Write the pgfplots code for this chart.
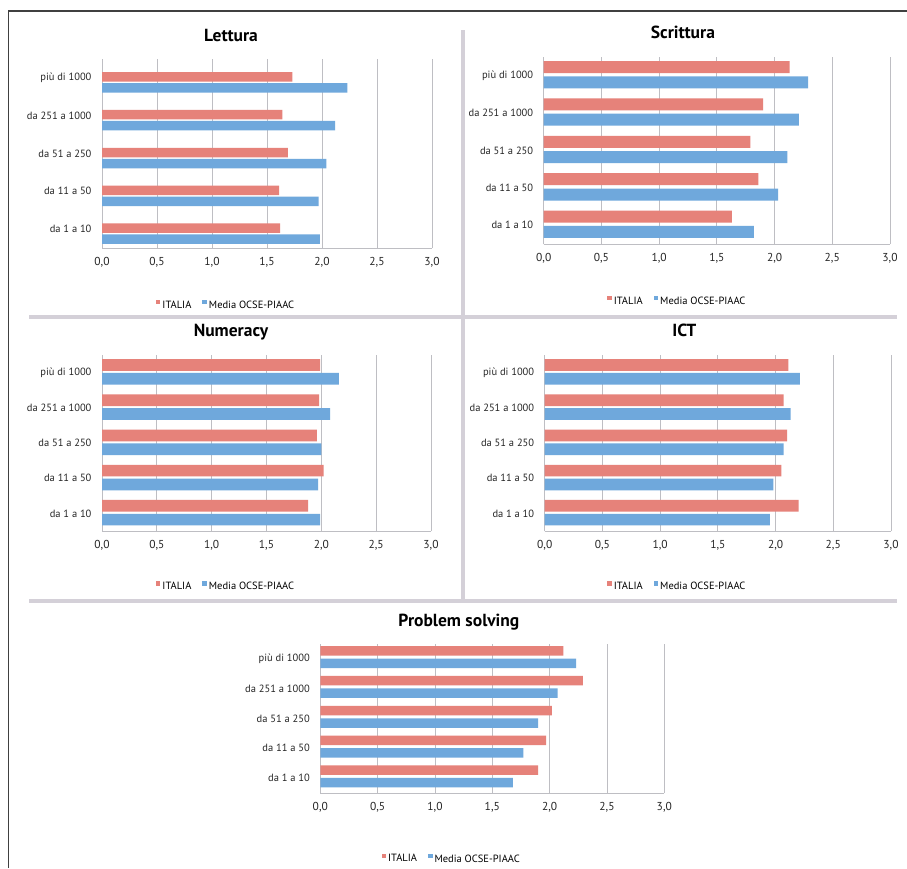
\documentclass[border=0pt]{standalone}
\usepackage{pgfplots}
\pgfplotsset{compat=1.18}
\usepackage{fontspec}
\setmainfont{PT Sans}
\definecolor{itred}{RGB}{230,130,122}
\definecolor{oblue}{RGB}{111,168,220}
\definecolor{gridg}{RGB}{190,190,195}
\definecolor{sepg}{RGB}{212,208,216}
\pgfplotsset{
 panel/.style={
  xbar, scale only axis, xmin=0, xmax=3, ymin=-0.5, ymax=4.5,
  anchor=north west,
  axis lines*=left, axis line style={gridg, line width=0.8pt},
  xmajorgrids, grid style={gridg, line width=0.8pt},
  major tick length=0pt,
  xtick={0,0.5,1,1.5,2,2.5,3},
  ytick={0,1,2,3,4},
  yticklabels={da 1 a 10, da 11 a 50, da 51 a 250, da 251 a 1000, più di 1000},
  /pgf/number format/fixed, /pgf/number format/fixed zerofill,
  /pgf/number format/precision=1, /pgf/number format/use comma,
  /pgf/number format/assume math mode=true,
  tick label style={text=black!85},
  yticklabel style={xshift=-7pt, font=\fontsize{10.5}{12}\selectfont},
  xticklabel style={yshift=-6pt, font=\fontsize{11.5}{13}\selectfont},
  title style={anchor=base, font=\fontsize{17.5}{20}\selectfont\bfseries},
  legend columns=2,
  legend style={draw=none, fill=none, anchor=center, font=\fontsize{10.5}{12}\selectfont,
    /tikz/every even column/.append style={column sep=9pt}},
  legend cell align=left,
 },
 itbar/.style={fill=itred, draw=none, legend image code/.code={\fill[itred] (0pt,1pt) rectangle (4.5pt,5.5pt);}},
 obbar/.style={fill=oblue, draw=none, legend image code/.code={\fill[oblue] (0pt,1pt) rectangle (4.5pt,5.5pt);}},
}
\begin{document}
\begin{tikzpicture}
\useasboundingbox (0pt,0pt) rectangle (907pt,-868pt);
\fill[white] (0pt,0pt) rectangle (907pt,-868pt);
% frame
\draw[line width=1.5pt, black!75] (8.5pt,-868pt) -- (8.5pt,-11pt) -- (907pt,-11pt);
% separators
\draw[line width=4pt, sepg] (463pt,-30pt) -- (463pt,-601pt);
\draw[line width=4pt, sepg] (29pt,-317pt) -- (897pt,-317pt);
\draw[line width=4pt, sepg] (29pt,-601pt) -- (897pt,-601pt);

% Lettura
\begin{axis}[panel, at={(102pt,-59pt)}, width=330pt, height=189pt,
  title={Lettura}, title style={at={(0.391,1.060)}},
  legend style={at={(0.376,-0.302)}}]
\addplot[itbar, bar shift=1pt, bar width=9.5pt] coordinates {(1.62,0) (1.61,1) (1.69,2) (1.64,3) (1.73,4)};
\addplot[obbar, bar shift=-10pt, bar width=9.5pt] coordinates {(1.98,0) (1.97,1) (2.04,2) (2.12,3) (2.23,4)};
\legend{ITALIA, Media OCSE-PIAAC}
\end{axis}

% Scrittura
\begin{axis}[panel, at={(543.7pt,-57pt)}, width=346.3pt, height=187pt,
  title={Scrittura}, title style={at={(0.402,1.068)}},
  legend style={at={(0.386,-0.305)}}]
\addplot[itbar, bar shift=8.7pt, bar width=12pt] coordinates {(1.63,0) (1.86,1) (1.79,2) (1.90,3) (2.13,4)};
\addplot[obbar, bar shift=-6.6pt, bar width=12pt] coordinates {(1.82,0) (2.03,1) (2.11,2) (2.21,3) (2.29,4)};
\legend{ITALIA, Media OCSE-PIAAC}
\end{axis}

% Numeracy
\begin{axis}[panel, at={(102pt,-355pt)}, width=329pt, height=176pt,
  title={Numeracy}, title style={at={(0.392,1.072)}},
  legend style={at={(0.377,-0.316)}}]
\addplot[itbar, bar shift=7.6pt, bar width=11.7pt] coordinates {(1.88,0) (2.02,1) (1.96,2) (1.98,3) (1.99,4)};
\addplot[obbar, bar shift=-6.2pt, bar width=11.7pt] coordinates {(1.99,0) (1.97,1) (2.00,2) (2.08,3) (2.16,4)};
\legend{ITALIA, Media OCSE-PIAAC}
\end{axis}

% ICT
\begin{axis}[panel, at={(544.7pt,-355pt)}, width=346.3pt, height=176pt,
  title={ICT}, title style={at={(0.403,1.072)}},
  legend style={at={(0.383,-0.316)}}]
\addplot[itbar, bar shift=7.6pt, bar width=11.7pt] coordinates {(2.20,0) (2.05,1) (2.10,2) (2.07,3) (2.11,4)};
\addplot[obbar, bar shift=-6.2pt, bar width=11.7pt] coordinates {(1.95,0) (1.98,1) (2.07,2) (2.13,3) (2.21,4)};
\legend{ITALIA, Media OCSE-PIAAC}
\end{axis}

% Problem solving
\begin{axis}[panel, at={(320.3pt,-644pt)}, width=344pt, height=149pt,
  title={Problem solving}, title style={at={(0.403,1.076)}},
  legend style={at={(0.382,-0.443)}}]
\addplot[itbar, bar shift=8pt, bar width=9.5pt] coordinates {(1.90,0) (1.97,1) (2.02,2) (2.29,3) (2.12,4)};
\addplot[obbar, bar shift=-4.5pt, bar width=9.5pt] coordinates {(1.68,0) (1.77,1) (1.90,2) (2.07,3) (2.23,4)};
\legend{ITALIA, Media OCSE-PIAAC}
\end{axis}
\end{tikzpicture}
\end{document}
